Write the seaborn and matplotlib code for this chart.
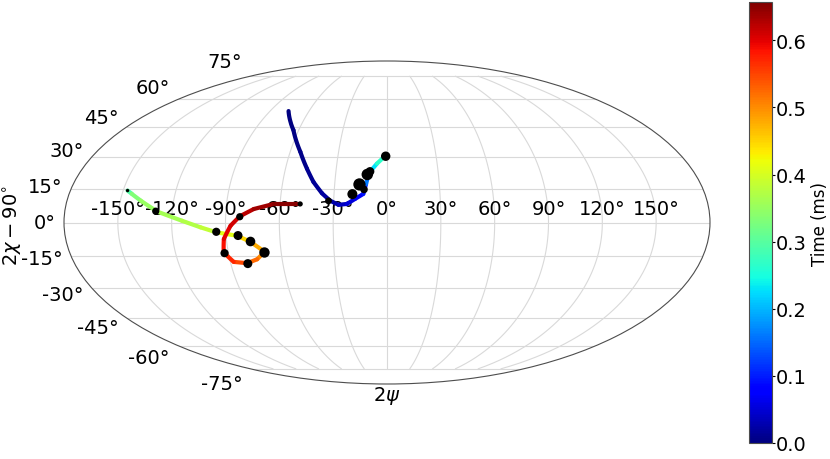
import numpy as np
import pandas as pd
import matplotlib
matplotlib.use("Agg")
import matplotlib.pyplot as plt
import seaborn as sns
from matplotlib.collections import LineCollection
from matplotlib.colors import Normalize

# ---- data (degrees: 2psi longitude, 2chi-90 latitude; time in ms) ----
track1_lon = [-75.8, -63.5, -53.7, -47.3, -42.3, -36.9, -32.0, -27.2, -22.5, -18.0, -13.4, -12.0, -10.5, -6.0, -1.2]
track1_lat = [53.4, 43.3, 32.6, 24.6, 18.4, 13.3, 9.9, 8.0, 8.4, 10.7, 13.0, 17.6, 22.7, 27.0, 30.6]
track1_t = [0.000, 0.003, 0.006, 0.009, 0.012, 0.016, 0.021, 0.030, 0.045, 0.060, 0.075, 0.120, 0.200, 0.255, 0.275]

track2_lon = [-147.5, -144.5, -138.5, -128.2, -114.3, -103.9, -95.2, -83.8, -76.7, -69.3, -74.3, -80.5,
              -88.1, -92.6, -91.4, -87.2, -82.1, -74.5, -63.6, -48.7]
track2_lat = [14.5, 13.0, 9.9, 4.9, 0.8, -2.2, -4.45, -6.0, -8.7, -13.3, -16.7, -18.5,
              -17.9, -13.6, -7.5, -1.45, 2.8, 6.1, 8.4, 8.4]
track2_t = [0.270, 0.320, 0.345, 0.355, 0.365, 0.375, 0.390, 0.430, 0.465, 0.490, 0.515, 0.535,
            0.560, 0.580, 0.595, 0.605, 0.615, 0.630, 0.645, 0.657]

dot_lon = [-32.9, -19.6, -15.8, -13.1, -11.5, -10.0, -0.8,
           -147.5, -129.2, -95.3, -83.3, -76.6, -69.5, -80.2, -92.2, -82.1, -48.7]
dot_lat = [9.8, 12.9, 17.3, 15.0, 21.9, 23.3, 30.5,
           14.5, 5.1, -4.2, -5.9, -8.6, -13.6, -18.7, -13.9, 2.6, 8.4]
dot_size = [24, 52, 78, 30, 68, 40, 46,
            6, 27, 35, 42, 48, 56, 42, 35, 27, 14]

t_min, t_max = 0.0, 0.657
cbar_ticks = [0.0, 0.1, 0.2, 0.3, 0.4, 0.5, 0.6]

# ---- style ----
sns.set_style("white")
plt.rcParams["font.family"] = ["DejaVu Sans"]
plt.rcParams["font.size"] = 14
plt.rcParams["mathtext.fontset"] = "dejavusans"
plt.rcParams["text.color"] = "black"
plt.rcParams["axes.labelcolor"] = "black"
plt.rcParams["xtick.color"] = "black"
plt.rcParams["ytick.color"] = "black"

fig = plt.figure(figsize=(8.3, 4.6), dpi=100)
ax = fig.add_axes([63 / 830, (460 - 385) / 460, 648 / 830, 323 / 460], projection="mollweide")

norm = Normalize(vmin=t_min, vmax=t_max)
cmap = plt.get_cmap("jet")

for lon, lat, tt in [(track1_lon, track1_lat, track1_t), (track2_lon, track2_lat, track2_t)]:
    x = np.deg2rad(np.asarray(lon))
    y = np.deg2rad(np.asarray(lat))
    pts = np.column_stack([x, y]).reshape(-1, 1, 2)
    segs = np.concatenate([pts[:-1], pts[1:]], axis=1)
    tt = np.asarray(tt)
    lc = LineCollection(segs, cmap=cmap, norm=norm, linewidth=3.0, capstyle="round",
                        joinstyle="round", zorder=2)
    lc.set_array(0.5 * (tt[:-1] + tt[1:]))
    ax.add_collection(lc)

dots = pd.DataFrame({"x": np.deg2rad(dot_lon), "y": np.deg2rad(dot_lat)})
sns.scatterplot(data=dots, x="x", y="y", s=np.asarray(dot_size, dtype=float), color="black",
                edgecolor="none", linewidth=0, zorder=3, ax=ax, legend=False)

ax.grid(True, color="0.85", linewidth=0.8)
ax.spines["geo"].set_edgecolor("0.3")
ax.spines["geo"].set_linewidth(0.8)
ax.tick_params(labelsize=14, colors="black")
ax.set_xlabel(r"$2\psi$", fontsize=14, labelpad=0, color="black")
ax.set_ylabel(r"$2\chi - 90^{\circ}$", fontsize=14, color="black")
ax.yaxis.set_label_coords(-0.06, 0.495)

cax = fig.add_axes([749 / 830, (460 - 444) / 460, 23 / 830, 441 / 460])
sm = plt.cm.ScalarMappable(norm=norm, cmap=cmap)
sm.set_array([])
cb = fig.colorbar(sm, cax=cax, ticks=cbar_ticks)
cb.ax.set_yticklabels([f"{v:.1f}" for v in cbar_ticks])
cb.ax.tick_params(labelsize=14, length=2, pad=1, colors="black")
cb.set_label("Time (ms)", fontsize=12, labelpad=3, color="black")
cb.outline.set_linewidth(0.8)
cb.outline.set_edgecolor("0.3")

fig.savefig("out.png", dpi=100)
